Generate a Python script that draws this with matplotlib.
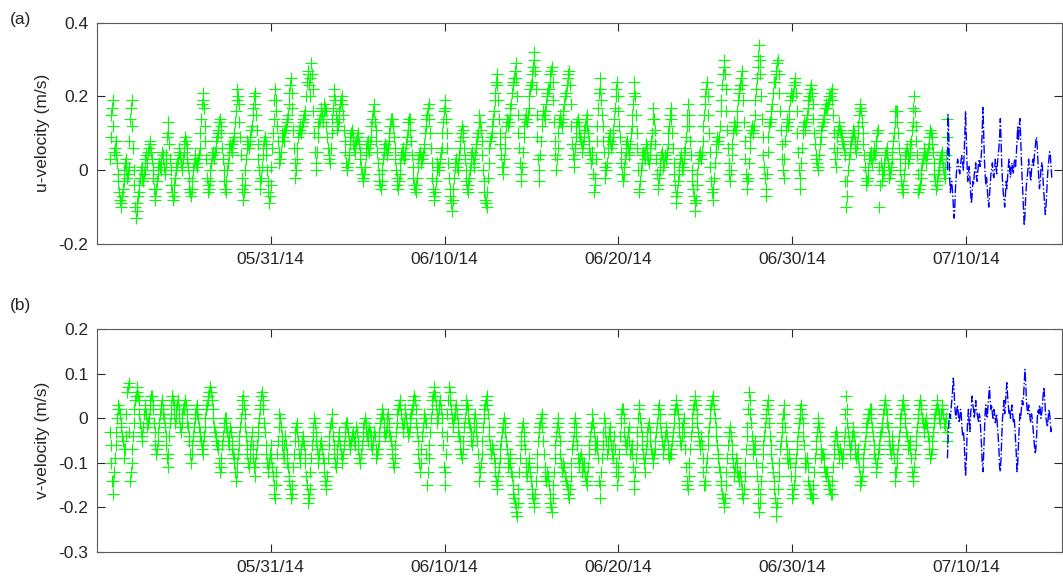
import numpy as np
import matplotlib
matplotlib.use('Agg')
import matplotlib.pyplot as plt
import matplotlib.dates as mdates

plt.rcParams['font.family'] = ['Liberation Sans', 'DejaVu Sans']

####### Observed currents (cm/s), hourly from 2014-05-21 18:00, one day per row

u_obs = [
    3, 9, 15, 17, 19, 12,
    5, 6, 8, 4, 2, -1, -3, -6, -8, -9, -10, -7, -5, -3, 0, 2, 3, 0, -2, -1, 1, 8, 14, 17,
    19, 12, 6, 0, -4, -10, -13, -11, -9, -7, -6, -4, -2, 0, 1, -2, -3, -1, 0, 3, 4, 2, 2, 5,
    6, 7, 8, 5, 3, 0, -2, -5, -8, -7, -5, -3, -1, 1, 2, 1, 0, 3, 5, 4, 3, 1, -1, 2,
    4, 9, 13, 10, 7, 3, 0, -4, -6, -8, -7, -4, -2, 0, 1, 2, 3, 5, 6, 4, 2, 1, 0, 3,
    5, 7, 9, 8, 6, 3, 1, -2, -5, -6, -7, -5, -3, 0, 2, 3, 4, 2, 1, 2, 3, 4, 6, 10,
    14, 18, 21, 19, 17, 12, 8, 3, -2, -4, -6, -5, -3, 0, 2, 4, 5, 4, 3, 5, 6, 8, 9, 10,
    11, 13, 14, 12, 10, 6, 3, 0, -3, -5, -6, -3, 0, 2, 4, 6, 7, 6, 5, 7, 8, 9, 10, 13,
    16, 19, 22, 20, 18, 13, 9, 4, -2, -5, -8, -6, -4, 0, 3, 6, 8, 7, 6, 8, 9, 11, 12, 15,
    17, 20, 21, 18, 15, 11, 7, 3, 0, -3, -5, -2, 1, 4, 6, 8, 9, 7, 4, 0, -3, -6, -9, -7,
    -4, 1, 6, 10, 14, 19, 22, 19, 16, 12, 8, 5, 2, 3, 5, 8, 10, 9, 8, 10, 11, 12, 13, 14,
    15, 18, 21, 23, 25, 21, 17, 11, 6, 2, -2, 0, 3, 6, 9, 11, 12, 11, 10, 12, 13, 14, 15, 15,
    16, 20, 24, 26, 27, 23, 20, 25, 29, 26, 22, 16, 10, 5, 0, 2, 5, 9, 12, 13, 14, 16, 17, 15,
    13, 16, 18, 17, 16, 12, 9, 6, 4, 3, 2, 6, 10, 14, 17, 20, 22, 19, 15, 13, 11, 12, 14, 16,
    18, 19, 20, 18, 15, 11, 8, 5, 2, 1, 0, 2, 4, 7, 9, 10, 11, 9, 7, 6, 5, 7, 8, 9,
    10, 9, 7, 5, 3, 1, -1, -2, -3, -1, 1, 4, 6, 7, 8, 6, 5, 7, 9, 12, 14, 16, 18, 16,
    13, 11, 8, 5, 2, -1, -3, -4, -5, -3, 0, 3, 5, 6, 7, 6, 4, 5, 6, 8, 10, 12, 14, 14,
    14, 12, 9, 6, 3, 0, -2, -4, -5, -3, -1, 2, 4, 5, 6, 4, 3, 4, 5, 7, 9, 11, 13, 14,
    14, 11, 8, 4, 1, -2, -4, -5, -6, -4, -2, 1, 3, 4, 5, 3, 2, 3, 4, 6, 7, 10, 12, 14,
    15, 17, 18, 14, 10, 6, 2, -2, -5, -7, -8, -6, -3, 0, 2, 1, 0, 1, 3, 5, 6, 10, 13, 16,
    19, 17, 14, 10, 6, 2, -2, -5, -7, -9, -11, -8, -5, -2, 1, 2, 3, 1, 0, 2, 4, 6, 8, 10,
    12, 11, 9, 6, 3, 0, -3, -5, -6, -4, -2, 0, 2, 4, 5, 3, 1, 2, 4, 6, 7, 9, 10, 13,
    15, 13, 11, 8, 4, 0, -3, -6, -8, -9, -10, -6, -2, 2, 6, 8, 9, 10, 12, 14, 16, 19, 21, 24,
    26, 23, 19, 14, 10, 7, 4, 1, -1, 1, 3, 6, 9, 12, 14, 13, 12, 13, 15, 17, 18, 21, 23, 24,
    25, 27, 29, 25, 20, 15, 10, 6, 2, -1, -3, 1, 5, 9, 12, 14, 15, 14, 13, 15, 17, 20, 22, 23,
    24, 26, 28, 30, 32, 27, 22, 15, 9, 3, -3, 0, 4, 8, 12, 14, 16, 15, 14, 16, 18, 20, 21, 22,
    22, 24, 26, 27, 28, 24, 19, 13, 8, 4, 0, 3, 6, 10, 13, 14, 15, 13, 12, 14, 16, 18, 20, 21,
    21, 23, 25, 26, 27, 23, 18, 12, 7, 4, 1, 3, 6, 9, 12, 13, 14, 12, 10, 9, 8, 6, 5, 7,
    9, 11, 12, 14, 15, 12, 10, 8, 6, 4, 2, 3, 5, -1, -6, -4, -2, 3, 8, 12, 17, 21, 25, 22,
    19, 15, 12, 8, 5, 1, -2, 0, 2, 5, 8, 9, 10, 8, 6, 7, 9, 11, 14, 17, 20, 22, 24, 20,
    16, 12, 9, 5, 2, -1, -3, -1, 1, 3, 5, 7, 8, 6, 4, 5, 7, 10, 12, 15, 18, 21, 24, 20,
    15, 10, 6, 0, -6, -5, -3, 0, 2, 4, 5, 4, 3, 5, 7, 6, 4, 3, 2, 4, 6, 8, 10, 14,
    17, 14, 11, 7, 3, -1, -5, -4, -2, 0, 2, 4, 5, 3, 1, 2, 4, 3, 3, 5, 7, 10, 12, 15,
    17, 14, 10, 6, 2, -1, -4, -7, -9, -6, -3, -1, 1, 3, 4, 2, 0, 1, 3, 5, 6, 9, 12, 15,
    18, 15, 12, 8, 4, 0, -3, -5, -7, -9, -11, -8, -4, -1, 2, 4, 5, 4, 3, 5, 8, 12, 15, 18,
    20, 22, 24, 20, 15, 10, 5, 1, -3, -6, -8, -5, -2, 2, 5, 7, 9, 8, 7, 9, 12, 16, 19, 23,
    26, 28, 30, 26, 22, 16, 11, 6, 2, -1, -3, 0, 4, 7, 10, 12, 13, 12, 11, 13, 16, 19, 21, 22,
    23, 25, 27, 23, 19, 13, 8, 3, -1, -3, -5, -2, 2, 6, 9, 11, 12, 11, 10, 12, 15, 19, 22, 25,
    28, 31, 34, 30, 26, 20, 14, 9, 4, 1, -2, -5, -7, -1, 5, 9, 12, 13, 14, 16, 18, 21, 24, 24,
    24, 26, 27, 29, 30, 26, 21, 16, 11, 7, 3, 0, -2, 3, 8, 11, 14, 13, 12, 14, 16, 19, 21, 20,
    20, 21, 23, 24, 25, 21, 16, 10, 5, 0, -5, -2, 2, 6, 10, 12, 13, 12, 11, 13, 15, 17, 19, 20,
    20, 22, 23, 21, 18, 14, 10, 7, 4, 3, 2, 1, 0, 4, 7, 9, 11, 12, 13, 14, 15, 17, 18, 17,
    17, 18, 19, 20, 20, 21, 22, 19, 15, 10, 6, 3, 1, 5, 9, 11, 13, 12, 11, 10, 9, 8, 7, 6,
    4, -3, -10, -7, -3, 0, 3, 5, 6, 8, 9, 10, 11, 10, 8, 6, 5, 7, 10, 12, 15, 17, 18, 16,
    13, 10, 7, 4, 1, -2, -4, -3, -2, 0, 3, 4, 5, 3, 2, 4, 6, 5, 4, 6, 8, 10, 11, 1,
    -10, -4, 2, 0, -3, -1, 0, 2, 4, 5, 6, 4, 2, 0, -2, -1, 1, 3, 5, 8, 10, 13, 16, 16,
    16, 13, 10, 6, 3, 0, -3, -5, -6, -4, -1, 2, 4, 5, 6, 4, 2, 3, 5, 7, 8, 11, 13, 17,
    20, 16, 12, 8, 4, -1, -6, -5, -4, -2, 0, 2, 3, 5, 6, 4, 2, 3, 4, 6, 7, 9, 11, 10,
    9, 7, 5, 2, -1, -3, -5, -4, -3, -1, 0, 2, 3, 4, 5, 3, 1, -1, -2, 1, 4, 9, 14,
]

v_obs = [
    -3, -6, -10, -14, -17, -14,
    -12, -9, -6, -3, 0, 2, 3, 2, 1, -1, -2, -4, -5, -7, -9, -7, -4, 1, 6, 7, 8, -3, -14, -12,
    -10, -7, -4, -1, 2, 4, 5, 6, 7, 5, 4, 1, -1, -3, -5, -4, -2, 1, 3, 2, 1, -1, -2, -1,
    0, 2, 4, 5, 5, 3, 2, -1, -3, -6, -8, -7, -5, -3, -1, 1, 2, 3, 4, 2, 1, 0, -2, -4,
    -6, -9, -11, -8, -4, -1, 1, 3, 5, 4, 3, 1, -1, 0, 2, 3, 4, 2, 0, -2, -3, -1, 1, 2,
    2, 3, 4, 3, 1, -1, -2, -4, -5, -8, -10, -8, -6, -4, -2, 0, 1, 2, 3, 1, 0, -2, -3, -4,
    -5, -7, -8, -6, -4, -2, 0, 2, 3, 4, 5, 6, 7, 7, 6, 4, 2, 0, -2, -3, -4, -5, -6, -6,
    -7, -10, -12, -11, -9, -6, -4, -2, -1, 0, 0, -2, -3, -5, -6, -4, -2, -3, -5, -7, -8, -9, -10, -12,
    -14, -12, -10, -8, -6, -4, -2, 0, 2, 4, 5, 3, 1, -2, -4, -6, -8, -10, -11, -9, -7, -5, -3, -6,
    -9, -11, -13, -10, -8, -6, -4, -2, 0, 2, 3, 5, 6, 4, 2, -1, -3, -6, -8, -10, -12, -11, -10, -8,
    -6, -9, -11, -13, -15, -17, -18, -15, -12, -8, -5, -2, 1, 0, -2, -4, -6, -8, -9, -6, -4, -6, -8, -10,
    -11, -13, -14, -16, -18, -17, -15, -11, -8, -5, -3, -2, -1, -3, -5, -8, -10, -9, -7, -5, -4, -5, -6, -8,
    -10, -13, -15, -17, -19, -18, -16, -12, -9, -6, -4, -2, 0, -1, -3, -5, -7, -9, -10, -8, -6, -5, -5, -7,
    -9, -10, -12, -14, -16, -15, -13, -9, -6, -4, -2, -1, 1, -1, -4, -6, -8, -10, -11, -9, -7, -5, -3, -4,
    -6, -8, -10, -9, -8, -6, -4, -2, -1, -1, -2, -3, -5, -6, -7, -5, -4, -3, -3, -5, -6, -4, -2, -3,
    -5, -7, -9, -10, -10, -8, -6, -4, -2, -1, 0, -1, -3, -4, -5, -3, -2, -3, -4, -6, -7, -5, -3, -3,
    -4, -7, -9, -8, -7, -5, -3, -1, 0, 1, 2, 1, -1, -3, -4, -3, -2, 0, 1, -1, -3, -4, -5, -7,
    -8, -10, -11, -9, -6, -3, -1, 1, 2, 3, 4, 3, 1, -1, -3, -2, -1, 1, 2, 0, -2, -3, -4, -3,
    -2, 0, 1, 2, 3, 4, 5, 4, 2, -1, -3, -5, -8, -10, -12, -10, -7, -4, -2, 0, 1, 0, -1, -8,
    -15, -12, -9, -6, -3, 0, 2, 4, 5, 6, 7, 5, 3, 1, -1, 0, 2, 3, 4, 2, 0, -3, -6, -11,
    -15, -12, -8, -4, 1, 4, 7, 6, 4, 2, 0, -1, -2, 0, 1, 2, 3, 1, -1, -3, -4, -5, -7, -8,
    -9, -7, -5, -2, 0, 2, 4, 3, 2, 0, -1, -2, -3, -5, -6, -4, -2, 0, 1, -1, -3, -5, -8, -11,
    -14, -12, -10, -8, -5, -2, 0, 2, 3, 4, 5, 3, 1, -2, -4, -6, -8, -7, -6, -7, -9, -10, -12, -14,
    -16, -15, -13, -11, -9, -7, -5, -3, -2, -1, 0, -1, -3, -5, -7, -9, -11, -10, -8, -10, -12, -13, -15, -17,
    -18, -19, -20, -21, -22, -19, -16, -12, -9, -6, -4, -2, -1, -3, -5, -7, -10, -12, -13, -11, -9, -10, -12, -14,
    -16, -17, -18, -19, -20, -17, -14, -11, -8, -5, -3, -2, -1, 0, 1, -2, -5, -8, -11, -13, -14, -13, -12, -13,
    -15, -17, -19, -20, -21, -18, -15, -12, -9, -6, -4, -2, 0, -1, -3, -5, -8, -10, -12, -11, -10, -11, -13, -14,
    -14, -15, -16, -17, -18, -16, -13, -10, -7, -5, -3, -1, 0, -2, -4, -6, -9, -10, -11, -9, -8, -10, -12, -11,
    -10, -11, -13, -14, -15, -13, -11, -8, -6, -4, -2, -1, 1, -1, -3, -5, -7, -6, -5, -7, -9, -14, -18, -15,
    -12, -9, -6, -3, 0, -1, -3, -5, -8, -7, -5, -3, -2, -4, -6, -8, -9, -6, -4, -7, -10, -12, -15, -13,
    -11, -8, -4, -1, 1, 2, 2, 0, -3, -5, -7, -6, -5, -3, -2, -5, -8, -7, -6, -8, -11, -14, -16, -12,
    -9, -6, -3, 0, 3, 2, 0, -2, -4, -6, -8, -10, -12, -9, -7, -5, -3, -2, -1, -3, -5, -7, -8, -9,
    -10, -8, -7, -5, -3, -1, 1, 2, 3, 1, -1, -3, -5, -7, -8, -6, -4, -3, -2, -4, -6, -8, -9, -8,
    -8, -7, -5, -3, -1, 1, 2, 3, 4, 2, 1, -1, -3, -5, -6, -4, -2, -1, 0, -3, -7, -11, -14, -15,
    -16, -13, -10, -7, -4, -2, 0, 2, 3, 4, 5, 3, 1, -1, -3, -5, -7, -6, -4, -6, -9, -12, -15, -15,
    -14, -11, -9, -6, -4, -2, 0, 2, 3, 4, 5, 4, 2, 0, -2, -4, -6, -8, -9, -11, -12, -14, -15, -17,
    -18, -19, -20, -18, -15, -12, -9, -6, -4, -3, -2, -4, -6, -8, -10, -12, -13, -11, -9, -10, -12, -13, -14, -13,
    -12, -14, -16, -17, -18, -16, -13, -10, -7, -4, -2, 2, 6, 4, 1, -1, -4, -6, -8, -7, -5, -7, -10, -13,
    -16, -19, -21, -19, -17, -14, -11, -8, -6, -4, -2, 0, 1, 3, 4, 2, -1, -4, -6, -8, -10, -12, -14, -16,
    -18, -20, -22, -19, -16, -13, -10, -7, -5, -3, -1, 1, 3, 1, -2, -5, -7, -9, -10, -9, -8, -10, -13, -16,
    -18, -17, -15, -13, -11, -9, -7, -5, -3, -1, 0, 2, 3, 1, -1, -4, -6, -9, -11, -10, -9, -11, -14, -15,
    -16, -17, -17, -18, -18, -15, -12, -9, -7, -5, -3, -1, 0, -2, -4, -7, -9, -8, -8, -9, -11, -12, -13, -12,
    -12, -14, -15, -16, -16, -17, -17, -14, -11, -8, -6, -4, -3, -4, -5, -7, -9, -8, -7, -8, -10, -9, -8, -5,
    -3, 1, 5, 2, -1, -3, -5, -7, -8, -6, -4, -3, -2, -4, -6, -8, -9, -8, -7, -9, -11, -13, -15, -14,
    -13, -11, -9, -7, -5, -3, -2, -1, 0, 1, 1, 2, 2, 0, -2, -4, -6, -8, -9, -11, -12, -10, -8, -7,
    -6, -4, -3, -2, -1, 1, 2, 3, 4, 2, 1, -1, -2, -4, -5, -7, -8, -6, -4, -7, -9, -12, -14, -12,
    -10, -8, -6, -4, -2, 0, 1, 3, 4, 3, 2, 0, -1, -3, -4, -6, -7, -6, -5, -7, -9, -12, -14, -13,
    -11, -8, -6, -4, -2, 0, 1, 3, 4, 3, 2, 0, -1, -2, -3, -1, 0, -1, -2, -4, -5, -7, -9, -8,
    -7, -5, -3, -1, 0, 1, 2, 3, 4, 2, 1, 0, -1, 1, 3, 2, 1, -1, -2, -1, 0, -3, -5,
]

####### Model output (cm/s), hourly from 2014-07-08 22:00

u_mod = [
    0, 15,
    8, -2, -6, -4, -3, -6, -9, -13, -11, -5, -2, 1, 3, 2, 0, -1, 1, 3, 4, 2, 0, 4, 10, 16,
    9, 2, -3, -1, 1, -2, -6, -9, -7, -3, -4, -1, 0, 2, -2, -3, 0, 2, 3, 1, 2, 5, 11, 17,
    10, 3, -1, -4, -2, -5, -8, -10, -7, -4, -1, 0, 2, -1, -2, 0, 3, 1, -1, 2, 4, 6, 9, 14,
    8, 1, -3, -6, -8, -10, -7, -3, -5, -2, 1, 3, 0, -2, 1, 2, 0, -1, 2, 3, 1, 4, 8, 12,
    8, 12, 14, 9, 3, -2, -6, -11, -15, -12, -7, -4, -2, 0, 3, 1, -1, -3, 0, 2, 3, 1, 4, 6,
    8, 9, 6, 2, -2, -5, -3, 0, 2, 1, -3, -6, -9, -12, -10, -6, -2, 1, 3, 5, 4, 1, -2,
]

v_mod = [
    -9, -4,
    -1, 1, 0, 2, 4, 6, 9, 7, 3, 1, 0, 2, 3, 1, -1, 0, 2, 1, -2, -4, -3, -5, -9, -13,
    -10, -4, 0, 2, -1, -3, 1, 3, 5, 3, 2, 0, 2, 4, 2, 1, 0, -1, 1, 0, -3, -6, -10, -12,
    -8, -3, 1, 3, 1, 0, 3, 5, 7, 4, 2, 3, 1, 0, 2, 1, -1, 0, 1, -2, -4, -7, -11, -12,
    -9, -4, 0, 2, 4, 1, 3, 6, 8, 5, 3, 1, 2, 0, 1, 3, 1, -1, 0, -2, -5, -8, -12, -10,
    -6, -2, 1, 0, 2, 4, 3, 5, 8, 11, 8, 4, 2, 1, 3, 2, 0, -1, 1, 0, -2, -4, -6, -8,
    -7, -4, 0, 2, 1, 3, 2, 0, 1, 3, 5, 7, 5, 2, 0, -1, -2, 0, 2, 1, -1, -3, -2,
]

t_obs = np.datetime64('2014-05-21T18:00') + np.arange(len(u_obs)) * np.timedelta64(1, 'h')
t_mod = np.datetime64('2014-07-08T22:00') + np.arange(len(u_mod)) * np.timedelta64(1, 'h')
u_obs = np.array(u_obs) / 100.0
v_obs = np.array(v_obs) / 100.0
u_mod = np.array(u_mod) / 100.0
v_mod = np.array(v_mod) / 100.0

xticks = ['2014-05-31', '2014-06-10', '2014-06-20', '2014-06-30', '2014-07-10']
xlim = (np.datetime64('2014-05-21T00:00'), np.datetime64('2014-07-15T12:00'))

fig = plt.figure(figsize=(10.63, 5.81), dpi=100)
ax1 = fig.add_axes([0.091, 0.580, 0.908, 0.381])
ax2 = fig.add_axes([0.091, 0.0504, 0.908, 0.3828])

axcol = '#262626'
for ax, t, obs, mod, lab, yl, yt in [
        (ax1, t_obs, u_obs, u_mod, 'u-velocity (m/s)', (-0.2, 0.4), [-0.2, 0, 0.2, 0.4]),
        (ax2, t_obs[:len(v_obs)], v_obs, v_mod, 'v-velocity (m/s)', (-0.3, 0.2),
         [-0.3, -0.2, -0.1, 0, 0.1, 0.2])]:
    ax.plot(t[:len(obs)], obs, '+', color='#00ff00', ms=8.5, mew=0.8)
    ax.plot(t_mod[:len(mod)], mod, '-.', color='#0000ff', lw=1.0)
    ax.set_xlim(xlim)
    ax.set_ylim(yl)
    ax.set_yticks(yt)
    ax.set_yticklabels(['%g' % v for v in yt])
    ax.set_xticks([np.datetime64(d) for d in xticks])
    ax.xaxis.set_major_formatter(mdates.DateFormatter('%m/%d/%y'))
    ax.set_ylabel(lab, fontsize=12.5, color=axcol, labelpad=6)
    ax.tick_params(direction='in', length=6, width=0.8, colors=axcol,
                   labelsize=12.5, top=True, right=True, pad=6)
    for s in ax.spines.values():
        s.set_color('#5a5a5a')
        s.set_linewidth(0.8)

fig.text(0.009, 0.966, '(a)', fontsize=12.5, color=axcol, va='center')
fig.text(0.009, 0.475, '(b)', fontsize=12.5, color=axcol, va='center')

fig.savefig('out.png', dpi=100)
